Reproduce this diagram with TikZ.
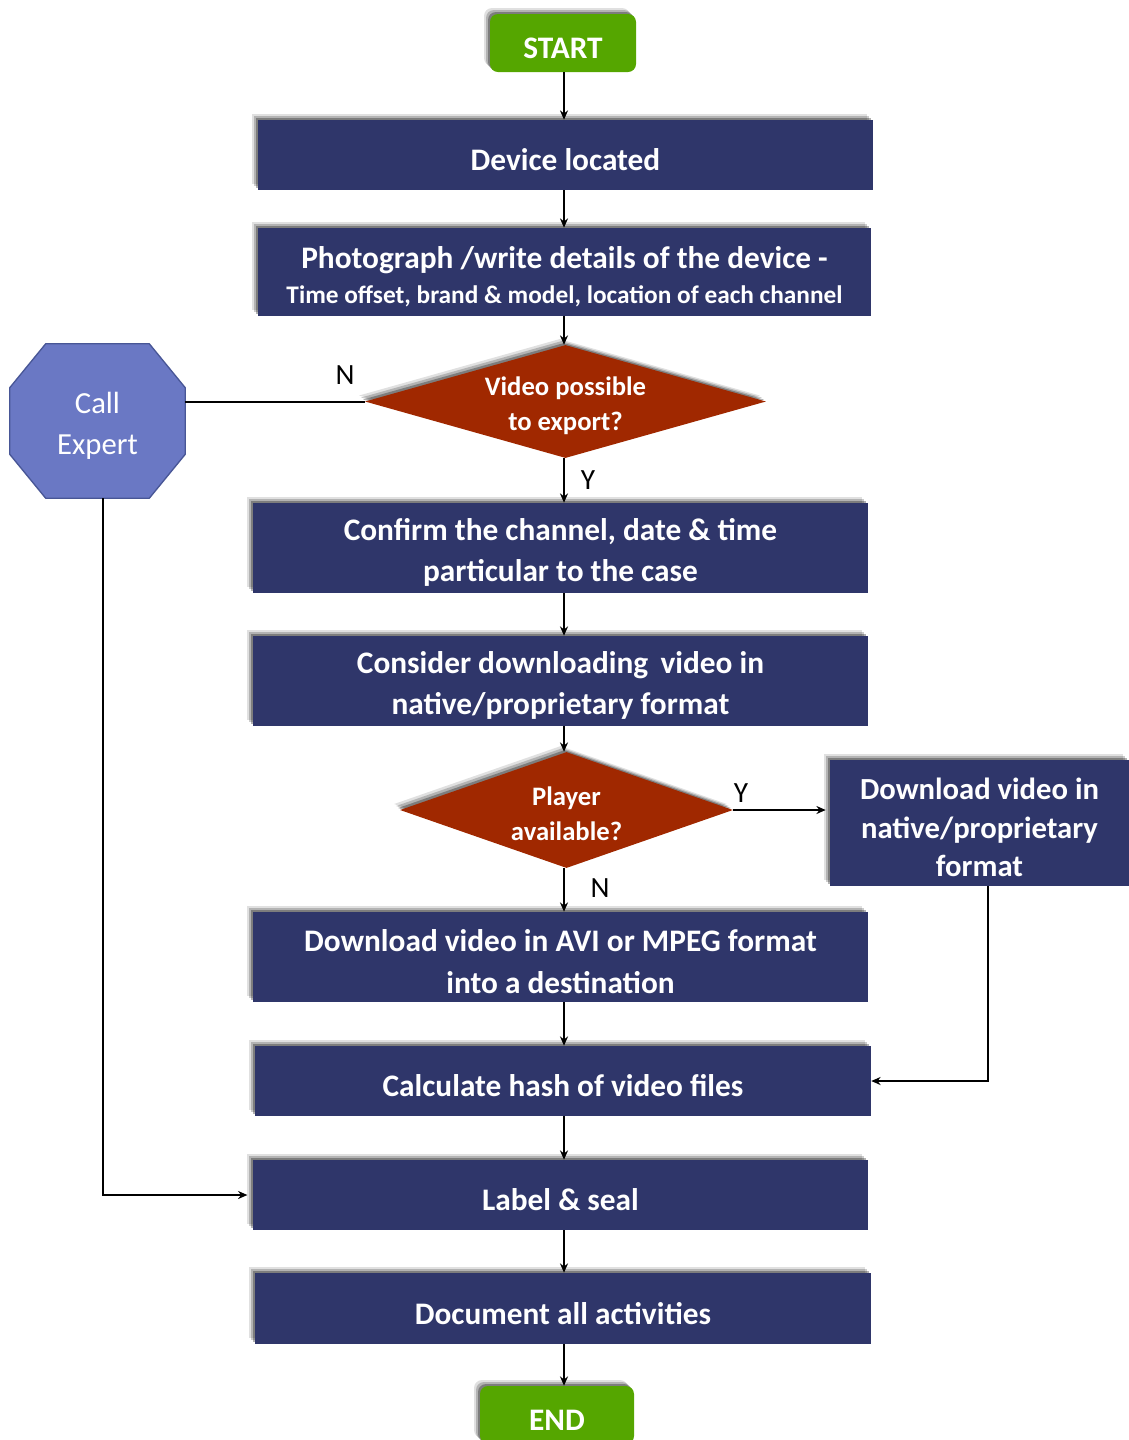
\documentclass[tikz,border=0pt]{standalone}
\usepackage{fontspec}
\setmainfont{Carlito}
\usetikzlibrary{shapes.geometric,shadows,arrows.meta,calc}

\definecolor{navy}{RGB}{47,54,106}
\definecolor{gogreen}{RGB}{85,166,0}
\definecolor{decide}{RGB}{160,40,0}
\definecolor{octfill}{RGB}{106,120,196}
\definecolor{octline}{RGB}{72,86,150}

\pgfdeclarelayer{bg}
\pgfsetlayers{bg,main}

% invisible strut that lowers the first line of a label a little
\newcommand{\firstline}{\rule{0pt}{1em}}

\tikzset{
  softshadow/.style={
    general shadow={shadow xshift=-4.5pt,shadow yshift=4.5pt,opacity=.12,fill=black},
    general shadow={shadow xshift=-3pt,shadow yshift=3pt,opacity=.2,fill=black},
    general shadow={shadow xshift=-1.5pt,shadow yshift=1.5pt,opacity=.3,fill=black}},
  lowered/.style={execute at begin node={\firstline}},
  box/.style={rectangle, fill=navy, text=white, align=center, inner sep=0pt,
    font=\bfseries\fontsize{23.5}{31}\selectfont, softshadow, lowered},
  term/.style={rectangle, rounded corners=6pt, fill=gogreen, text=white, inner sep=0pt,
    font=\bfseries\fontsize{23.5}{26}\selectfont, softshadow, lowered},
  decision/.style={diamond, fill=decide, text=white, align=center, inner sep=0pt,
    font=\bfseries\fontsize{20}{26}\selectfont, softshadow, lowered},
  lbl/.style={text=black, inner sep=0pt, font=\fontsize{22}{24}\selectfont},
  arr/.style={line width=1.5pt, -{Stealth[length=7pt,width=6pt]}},
  link/.style={line width=1.5pt},
}

\begin{document}
\begin{tikzpicture}[x=0.75pt,y=-0.75pt]
\useasboundingbox (0,0) rectangle (1129,1440);
\clip (0,0) rectangle (1129,1440);

% main column of connectors
\coordinate (col) at (564,0);

\node[term, minimum width=109.5pt, minimum height=43.5pt] (start) at (563,43) {START};
\node[box, minimum width=461.25pt, minimum height=52.5pt] (dev) at (565.5,155) {Device located};
\node[box, minimum width=460pt, minimum height=66pt] (photo) at (564.5,272)
  {\firstline Photograph /write details of the device -\\[-5pt]{\fontsize{19}{24}\selectfont Time offset, brand \& model, location of each channel}};
\node[decision, aspect=3.55, minimum width=300.75pt, minimum height=84.75pt] (d1) at (565.5,401.5) {\firstline Video possible\\to export?};
\node[box, minimum width=461.25pt, minimum height=67.5pt] (confirm) at (560.5,548) {\firstline Confirm the channel, date \& time\\particular to the case};
\node[box, minimum width=461.25pt, minimum height=67.5pt] (consider) at (560.5,681) {\firstline Consider downloading\, video in\\native/proprietary format};
\node[decision, aspect=2.87, minimum width=249.75pt, minimum height=87pt] (d2) at (566.5,810) {\firstline Player\\available?};
\node[box, minimum width=224.25pt, minimum height=94.5pt, font=\bfseries\fontsize{23}{29}\selectfont] (dlnat) at (979.5,823) {\firstline Download video in\\native/proprietary\\format};
\node[box, minimum width=461.25pt, minimum height=67.5pt] (avi) at (560.5,957) {\firstline Download video in AVI or MPEG format\\into a destination};
\node[box, minimum width=462pt, minimum height=52.5pt] (hash) at (563,1081) {Calculate hash of video files};
\node[box, minimum width=461.25pt, minimum height=52.5pt] (seal) at (560.5,1195) {Label \& seal};
\node[box, minimum width=462pt, minimum height=53.25pt] (doc) at (563,1308.5) {Document all activities};
\node[term, minimum width=115.5pt, minimum height=43.5pt] (end) at (557,1415) {END};

% octagonal "Call Expert" node
\node[rectangle, minimum width=131.25pt, minimum height=115.5pt, inner sep=0pt, align=center,
  text=white, font=\fontsize{23}{31}\selectfont] (expert) at (97.5,421) {\firstline Call\\Expert};
\begin{pgfonlayer}{bg}
\filldraw[fill=octfill, draw=octline, line width=1pt]
  ($(expert.north west)+(36,0)$) -- ($(expert.north east)+(-36,0)$)
  -- ($(expert.north east)+(0,44)$) -- ($(expert.south east)+(0,-44)$)
  -- ($(expert.south east)+(-36,0)$) -- ($(expert.south west)+(36,0)$)
  -- ($(expert.south west)+(0,-44)$) -- ($(expert.north west)+(0,44)$) -- cycle;
\end{pgfonlayer}

% connectors
\draw[arr] (col |- start.south) -- (col |- dev.north);
\draw[arr] (col |- dev.south) -- (col |- photo.north);
\draw[arr] (col |- photo.south) -- (col |- d1.north);
\draw[arr] (col |- d1.south) -- (col |- confirm.north);
\draw[arr] (col |- confirm.south) -- (col |- consider.north);
\draw[arr] (col |- consider.south) -- (col |- d2.north);
\draw[arr] (col |- d2.south) -- (col |- avi.north);
\draw[arr] (col |- avi.south) -- (col |- hash.north);
\draw[arr] (col |- hash.south) -- (col |- seal.north);
\draw[arr] (col |- seal.south) -- (col |- doc.north);
\draw[arr] (col |- doc.south) -- (col |- end.north);

\draw[link] (d1.west) -- (d1.west -| expert.east);
\draw[arr, shorten >=3pt] (d2.east) -- (d2.east -| dlnat.west);
\draw[arr] ([xshift=6pt]dlnat.south) |- (hash.east);
\draw[arr, shorten >=4pt] ([xshift=4pt]expert.south) |- (seal.west);

% branch labels
\node[lbl] (n1) at (345,375) {N};
\node[lbl] (y1) at (588,480) {Y};
\node[lbl] (y2) at (741,793) {Y};
\node[lbl] (n2) at (600,888) {N};
\end{tikzpicture}
\end{document}
